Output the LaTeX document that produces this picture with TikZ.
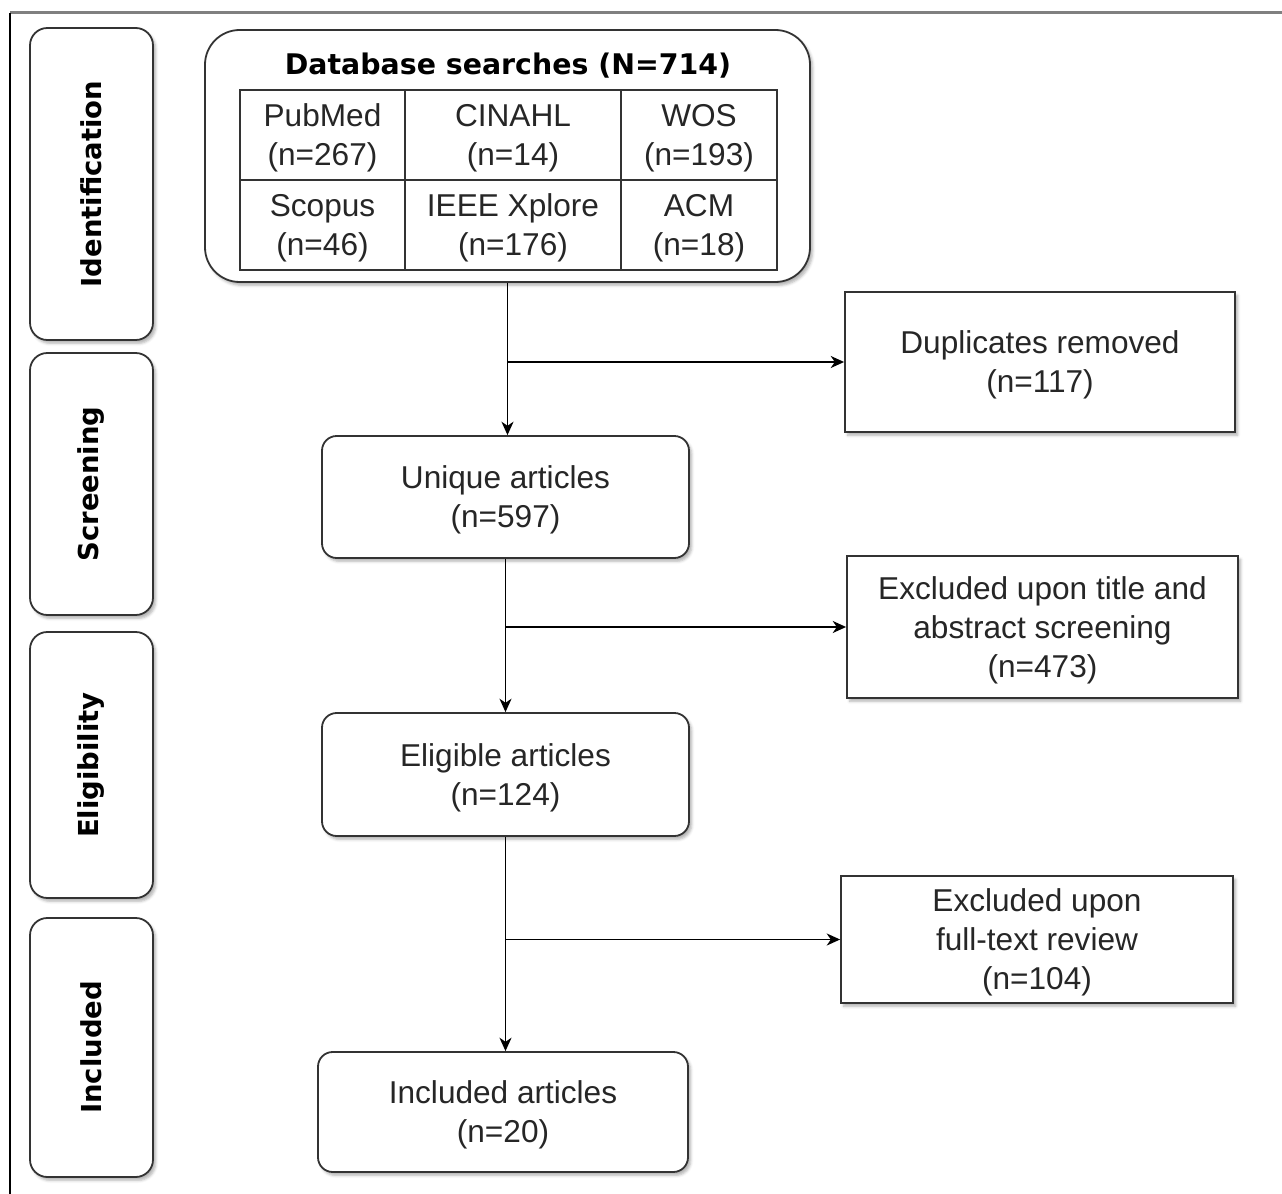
\documentclass[tikz,border=0pt]{standalone}
\usepackage{fontspec}
\setmainfont{Liberation Sans}
\newfontfamily\headfont{DejaVu Sans}
\usetikzlibrary{shadows.blur}
\usetikzlibrary{arrows.meta}
\usepackage{xcolor}

\tikzset{
  soft/.style={blur shadow={shadow xshift=2pt, shadow yshift=-2.5pt, shadow opacity=30, shadow blur radius=2pt}},
  boxfont/.style={font=\fontsize{23.7}{29.25}\selectfont, text=black!85, text depth=-4pt},
  stage/.style={draw=black!80, line width=1.35pt, rounded corners=13pt, fill=white, soft, minimum width=92.25pt, inner sep=0pt, font=\headfont\bfseries\fontsize{20.6}{24}\selectfont},
  dbbox/.style={draw=black!80, line width=1.35pt, rounded corners=26pt, fill=white, soft, inner sep=0pt},
  cell/.style={draw=black!80, line width=1.1pt, inner sep=0pt, align=center, boxfont, minimum height=67.5pt},
  artbox/.style={draw=black!80, line width=1.35pt, rounded corners=11pt, fill=white, soft, align=center, boxfont, inner sep=0pt},
  exclbox/.style={draw=black!80, line width=1.35pt, fill=white, soft, align=center, boxfont, inner sep=0pt},
  arr/.style={draw=black, line width=1pt, -{Stealth[length=10pt, width=9pt, inset=3pt]}},
}

\begin{document}
\begin{tikzpicture}[x=0.75pt,y=0.75pt,yscale=-1,xscale=1]
\useasboundingbox (0,0) rectangle (1282,1194);

%Frame
\draw [color=black!50, line width=2.25pt] (10,13) -- (1282,13) ;
\draw [line width=1.5pt] (10,13) -- (10,1194) ;

%Stages
\node [stage, minimum height=234pt] (ident) at (91.5,184) {\rotatebox{90}{Identification}};
\node [stage, minimum height=196.5pt] (screen) at (91.5,484) {\rotatebox{90}{Screening}};
\node [stage, minimum height=199.5pt] (elig) at (91.5,765) {\rotatebox{90}{Eligibility}};
\node [stage, minimum height=194.25pt] (incl) at (91.5,1047.5) {\rotatebox{90}{Included}};

%Database searches
\node [dbbox, minimum width=453.75pt, minimum height=189pt] (db) at (507.5,156) {};
\node [font=\headfont\bfseries\fontsize{21.3}{25}\selectfont, inner sep=0pt] (dbtitle) at (508,66) {Database searches (N=714)};
\node [cell, minimum width=123.75pt] (pubmed) at (322.5,135) {PubMed\\(n=267)};
\node [cell, minimum width=162pt] (cinahl) at (513,135) {CINAHL\\(n=14)};
\node [cell, minimum width=117pt] (wos) at (699,135) {WOS\\(n=193)};
\node [cell, minimum width=123.75pt] (scopus) at (322.5,225) {Scopus\\(n=46)};
\node [cell, minimum width=162pt] (ieee) at (513,225) {IEEE Xplore\\(n=176)};
\node [cell, minimum width=117pt] (acm) at (699,225) {ACM\\(n=18)};

%Articles
\node [artbox, minimum width=275.25pt, minimum height=91.5pt] (unique) at (505.5,497) {Unique articles\\(n=597)};
\node [artbox, minimum width=275.25pt, minimum height=92.25pt] (eligart) at (505.5,774.5) {Eligible articles\\(n=124)};
\node [artbox, minimum width=277.5pt, minimum height=90pt] (inclart) at (503,1112) {Included articles\\(n=20)};

%Exclusions
\node [exclbox, minimum width=292.5pt, minimum height=105pt] (dup) at (1040,362) {Duplicates removed\\(n=117)};
\node [exclbox, minimum width=293.25pt, minimum height=106.5pt] (excltitle) at (1042.5,627) {Excluded upon title and\\abstract screening\\(n=473)};
\node [exclbox, minimum width=294pt, minimum height=95.25pt] (exclfull) at (1037,939.5) {Excluded upon\\full-text review\\(n=104)};

%Connectors
\draw [arr] (db.south) -- (db.south |- unique.north) ;
\draw [arr] (db.south |- dup.west) -- (dup.west) ;
\draw [arr] (unique.south) -- (unique.south |- eligart.north) ;
\draw [arr] (unique.south |- excltitle.west) -- (excltitle.west) ;
\draw [arr] (eligart.south) -- (eligart.south |- inclart.north) ;
\draw [arr] (eligart.south |- exclfull.west) -- (exclfull.west) ;

\end{tikzpicture}
\end{document}
